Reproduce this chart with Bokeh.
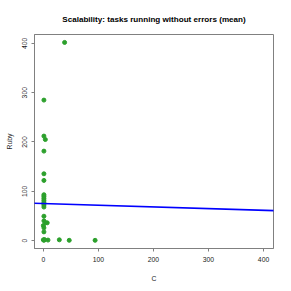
from bokeh.plotting import figure
from bokeh.models import Range1d, FixedTicker, Slope, ColumnDataSource
from bokeh.embed import file_html
from bokeh.resources import INLINE

# data
c_vals = [38.6, 1, 1, 3.6, 1, 1, 1,
          1, 1, 1, 1, 1, 1, 1, 1,
          1, 1, 4, 7, 0, 1, 1,
          0, 1, 2, 8.4, 29, 47, 94]
ruby_vals = [402, 285, 212, 205, 181.5, 135.5, 122,
             93, 90, 86, 82, 78, 75, 72, 68,
             49.4, 40, 36, 36, 30.5, 25.8, 17.6,
             1.5, 0.5, 2, 1, 1.5, 0.5, 0.5]
fit_intercept = 75.25
fit_slope = -0.0346
tick_values = [0, 100, 200, 300, 400]
axis_min, axis_max = -16.1, 418.1

FONT = "Liberation Sans"
TXT = "#222222"
BOX = "#808080"

p = figure(width=291, height=291, output_backend="svg", toolbar_location=None,
           x_range=Range1d(axis_min, axis_max), y_range=Range1d(axis_min, axis_max),
           title="Scalability: tasks running without errors (mean)",
           x_axis_label="C", y_axis_label="Ruby",
           min_border_left=34, min_border_right=18, min_border_top=34, min_border_bottom=43)

p.title.align = "center"
p.title.vertical_align = "top"
p.title.text_font = FONT
p.title.text_font_size = "8.1px"
p.title.text_font_style = "bold"
p.title.text_color = "black"
p.title.standoff = 18

p.grid.visible = False
p.outline_line_color = BOX
p.outline_line_width = 1

for ax in (p.xaxis[0], p.yaxis[0]):
    ax.ticker = FixedTicker(ticks=tick_values)
    ax.minor_tick_line_color = None
    ax.major_tick_in = 0
    ax.major_tick_out = 3
    ax.major_tick_line_color = BOX
    ax.axis_line_color = BOX
    ax.major_label_text_font = FONT
    ax.major_label_text_font_size = "6.8px"
    ax.major_label_text_color = TXT
    ax.axis_label_text_font = FONT
    ax.axis_label_text_font_size = "6.8px"
    ax.axis_label_text_font_style = "normal"
    ax.axis_label_text_color = TXT

p.xaxis[0].major_label_standoff = 5
p.xaxis[0].axis_label_standoff = 10
p.yaxis[0].major_label_orientation = "vertical"
p.yaxis[0].major_label_standoff = 4
p.yaxis[0].axis_label_standoff = 7

src = ColumnDataSource(data=dict(c=c_vals, ruby=ruby_vals))
p.scatter("c", "ruby", source=src, size=4, color="#2ca02c", line_color="#2ca02c")

p.add_layout(Slope(gradient=fit_slope, y_intercept=fit_intercept,
                   line_color="#0000ff", line_width=1.6))

open("out.html", "w").write(file_html(p, INLINE))
